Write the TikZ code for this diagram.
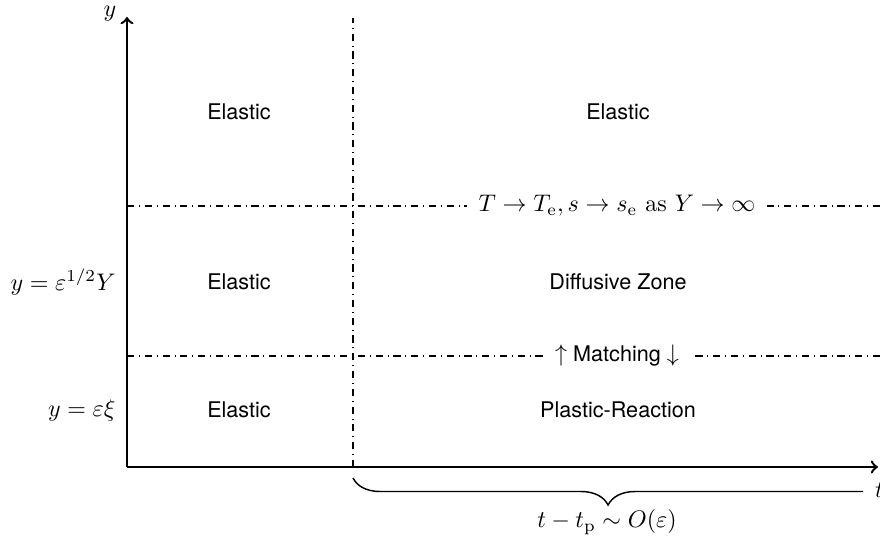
\documentclass[tikz,border=0pt]{standalone}
\usepackage{amsmath}
\usepackage{fontspec}
\setsansfont[Scale=0.9]{TeX Gyre Heros}
\usetikzlibrary{decorations.pathreplacing}
\begin{document}
\begin{tikzpicture}[x=0.41667pt,y=-0.41667pt,
  axisline/.style={line width=1pt,->},
  divider/.style={dash dot,semithick},
  region/.style={font=\sffamily},
  online/.style={fill=white,inner xsep=5pt,inner ysep=3pt},
  sidelabel/.style={anchor=east,inner sep=0pt},
  bracestyle/.style={semithick,decorate,decoration={brace,mirror,amplitude=11.25pt,aspect=0.475}}]
\useasboundingbox (0,0) rectangle (880,539);
% coordinates
\coordinate (O) at (127,467);
\coordinate (ytop) at (127,17);
\coordinate (xend) at (878,467);
\coordinate (vtop) at (353,18);
\coordinate (vbot) at (353,467);
\coordinate (h1l) at (127,206);
\coordinate (h1r) at (886,206);
\coordinate (h2l) at (127,356);
\coordinate (h2r) at (886,356);
\coordinate (bl) at (353,478);
\coordinate (br) at (890,478);
% dividers
\draw[divider] (vbot) -- (vtop);
\draw[divider] (h1l) -- (h1r);
\draw[divider] (h2l) -- (h2r);
% axes
\draw[axisline] (O) -- (ytop);
\draw[axisline] (O) -- (xend);
\node (ylab) at (110,14) {$y$};
\node (tlab) at (879.5,490) {$t$};
% line labels
\node[online] (cond) at (617,206) {$T \to T_{\mathrm{e}}, s \to s_{\mathrm{e}}$ as $Y \to \infty$};
\node[online,font=\sffamily] (match) at (617,356) {$\uparrow$ Matching $\downarrow$};
% regions
\node[region] (r11) at (239,112) {Elastic};
\node[region] (r12) at (618,112) {Elastic};
\node[region] (r21) at (239,282) {Elastic};
\node[region] (r22) at (618,282) {Diffusive Zone};
\node[region] (r31) at (239,410) {Elastic};
\node[region] (r32) at (618,410) {Plastic-Reaction};
% side labels
\node[sidelabel] (sl1) at (116,282) {$y = \varepsilon^{1/2} Y$};
\node[sidelabel] (sl2) at (116,410) {$y = \varepsilon \xi$};
% brace
\begin{scope}
\clip (0,0) rectangle (863,539);
\draw[bracestyle] (bl) -- (br);
\end{scope}
\node (blab) at (607,522) {$t - t_{\mathrm{p}} \sim O(\varepsilon)$};
\end{tikzpicture}
\end{document}
